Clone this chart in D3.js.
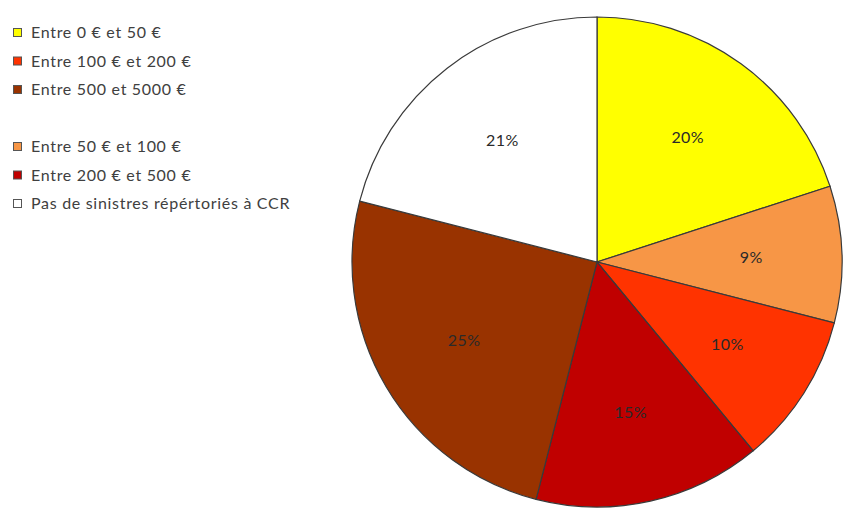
<!DOCTYPE html>
<html>
<head>
<meta charset="utf-8">
<script src="https://cdn.jsdelivr.net/npm/d3@7"></script>
<style>
  body { margin: 0; background: #fff; }
  svg { display: block; }
</style>
</head>
<body>
<div id="chart"></div>
<script>
var categories = ["Entre 0 € et 50 €", "Entre 50 € et 100 €", "Entre 100 € et 200 €",
                  "Entre 200 € et 500 €", "Entre 500 et 5000 €", "Pas de sinistres répértoriés à CCR"];
var values = [20, 9, 10, 15, 25, 21];
var colors = ["#ffff00", "#f79646", "#ff3300", "#c00000", "#993300", "#ffffff"];
// legend row for each category (Excel wrapped it in two blocks)
var legendRows = [0, 4, 1, 5, 2, 6];

var w = 850, h = 509;
var cx = 597, cy = 262, radius = 245;

var svg = d3.select("#chart")
  .append("svg")
  .attr("width", w)
  .attr("height", h);

var data = categories.map(function(c, i) {
  return { name: c, value: values[i], color: colors[i], row: legendRows[i] };
});

var pie = d3.pie()
  .sort(null)
  .value(function(d) { return d.value; });

var arc = d3.arc()
  .innerRadius(0)
  .outerRadius(radius);

var labelArc = d3.arc()
  .innerRadius(radius * 0.63)
  .outerRadius(radius * 0.63);

var g = svg.append("g")
  .attr("transform", "translate(" + cx + "," + cy + ")");

var slices = g.selectAll("path")
  .data(pie(data))
  .enter();

slices.append("path")
  .attr("d", arc)
  .attr("fill", function(d) { return d.data.color; })
  .attr("stroke", "#3a3a3a")
  .attr("stroke-width", 1.2);

slices.append("text")
  .attr("transform", function(d) { return "translate(" + labelArc.centroid(d) + ")"; })
  .attr("text-anchor", "middle")
  .attr("dy", "0.35em")
  .attr("font-family", "Lato, sans-serif")
  .attr("font-size", "16px")
  .attr("letter-spacing", "0.4px")
  .attr("fill", "#2a2a2a")
  .text(function(d) { return d.data.value + "%"; });

// legend
var yRow = d3.scaleLinear().domain([0, 6]).range([32.5, 203.5]);

var legend = svg.selectAll(".legend")
  .data(data)
  .enter()
  .append("g")
  .attr("class", "legend")
  .attr("transform", function(d) { return "translate(13," + yRow(d.row) + ")"; });

legend.append("rect")
  .attr("x", 0.5)
  .attr("y", -4)
  .attr("width", 8)
  .attr("height", 8)
  .attr("fill", function(d) { return d.color; })
  .attr("stroke", "#555")
  .attr("stroke-width", 1);

legend.append("text")
  .attr("x", 18)
  .attr("dy", "0.35em")
  .attr("font-family", "Lato, sans-serif")
  .attr("font-size", "16px")
  .attr("letter-spacing", "0.7px")
  .attr("fill", "#404040")
  .text(function(d) { return d.name; });
</script>
</body>
</html>
